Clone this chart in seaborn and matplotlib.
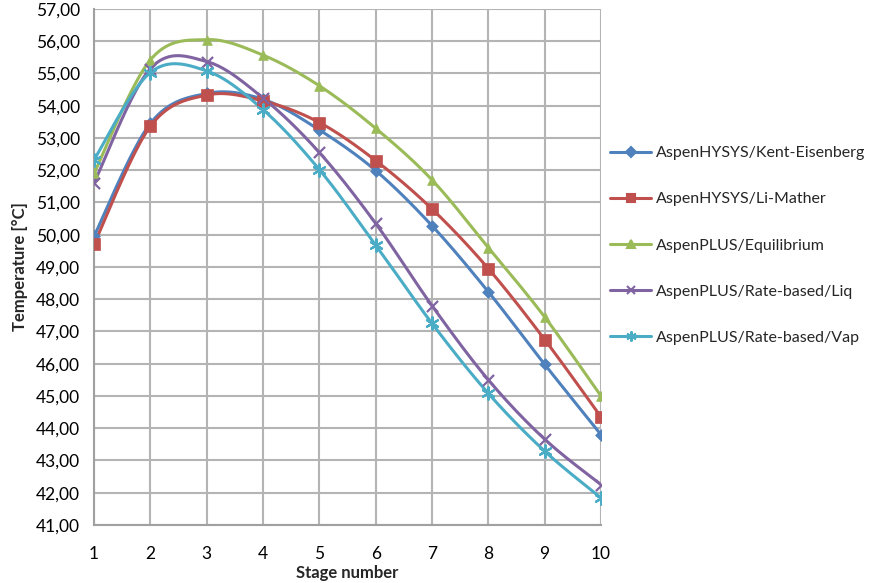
import numpy as np
import seaborn as sns
import matplotlib.pyplot as plt
import pandas as pd
from matplotlib.lines import Line2D
from matplotlib.ticker import FuncFormatter

sns.set_style('white')
plt.rcParams['font.family'] = ['Lato', 'DejaVu Sans']

stages = [1, 2, 3, 4, 5, 6, 7, 8, 9, 10]
kent_eisenberg = [49.95, 53.45, 54.38, 54.20, 53.25, 51.99, 50.28, 48.23, 45.98, 43.80]
li_mather = [49.70, 53.36, 54.33, 54.15, 53.48, 52.30, 50.80, 48.95, 46.75, 44.35]
equilibrium = [51.90, 55.42, 56.05, 55.57, 54.62, 53.30, 51.70, 49.60, 47.45, 45.00]
rate_liq = [51.60, 55.15, 55.37, 54.24, 52.55, 50.35, 47.80, 45.50, 43.66, 42.25]
rate_vap = [52.32, 55.03, 55.08, 53.88, 52.02, 49.68, 47.25, 45.08, 43.29, 41.84]

labels = ['AspenHYSYS/Kent-Eisenberg', 'AspenHYSYS/Li-Mather', 'AspenPLUS/Equilibrium',
          'AspenPLUS/Rate-based/Liq', 'AspenPLUS/Rate-based/Vap']
colors = ['#4F81BD', '#C0504D', '#9BBB59', '#8064A2', '#4BACC6']
markers = ['D', 's', '^', 'x', (6, 2, 0)]
msizes = [6, 8, 7, 8, 9]

series = [kent_eisenberg, li_mather, equilibrium, rate_liq, rate_vap]
df = pd.concat([pd.DataFrame({'stage': stages, 'temp': s, 'model': l})
                for s, l in zip(series, labels)], ignore_index=True)


def smooth_curve(x, y, n=24):
    # Excel-like smoothed line (Bezier through the points)
    pts = np.column_stack([x, y]).astype(float)
    pad = np.vstack([pts[0], pts, pts[-1]])
    t = np.linspace(0, 1, n, endpoint=False)[:, None]
    out = []
    for i in range(1, len(pad) - 2):
        p0, p1, p2, p3 = pad[i - 1:i + 3]
        c1 = p1 + (p2 - p0) / 6
        c2 = p2 - (p3 - p1) / 6
        out.append((1 - t) ** 3 * p1 + 3 * (1 - t) ** 2 * t * c1 + 3 * (1 - t) * t ** 2 * c2 + t ** 3 * p2)
    out.append(pts[-1:])
    return np.vstack(out)


fig = plt.figure(figsize=(8.85, 5.83), dpi=100)
ax = fig.add_axes([0.1062, 0.0995, 0.5729, 0.8851])

handles = []
for lab, col, mk, ms in zip(labels, colors, markers, msizes):
    sub = df[df['model'] == lab]
    curve = smooth_curve(sub['stage'].values, sub['temp'].values)
    ax.plot(curve[:, 0], curve[:, 1], color=col, lw=2.2, zorder=3)
    filled = mk not in ('x',) and not isinstance(mk, tuple)
    sns.scatterplot(x='stage', y='temp', data=sub, ax=ax, marker=mk, s=ms ** 2,
                    color=col, edgecolor=col if filled else None,
                    linewidth=1.6 if not filled else 0.5, zorder=4, legend=False)
    handles.append(Line2D([0], [0], color=col, lw=2.2, marker=mk, markersize=ms * 0.8,
                          markeredgecolor=col, markerfacecolor=col, markeredgewidth=1.5))

ax.set_xlim(1, 10)
ax.set_ylim(41, 57)
ax.set_xticks(stages)
ax.set_yticks(np.arange(41, 58, 1))
ax.yaxis.set_major_formatter(FuncFormatter(lambda v, p: f"{v:.2f}".replace('.', ',')))
ax.grid(True, color='#b4b4b4', lw=1.5)
ax.set_axisbelow(True)
for sp in ['top', 'right']:
    ax.spines[sp].set_visible(False)
for sp in ['left', 'bottom']:
    ax.spines[sp].set_color('#a0a0a0')
    ax.spines[sp].set_linewidth(1.5)
ax.tick_params(axis='both', which='major', length=5, width=1.5, color='#a0a0a0',
               labelsize=12.5, labelcolor='black', direction='out', pad=5)
ax.tick_params(axis='x', pad=10)

ax.set_xlabel('Stage number', fontsize=12, fontweight='bold', labelpad=2)
ax.set_ylabel('Temperature [°C]', fontsize=12, fontweight='bold', labelpad=6)

fig.legend(handles, labels, loc='center left', bbox_to_anchor=(0.682, 0.579),
           frameon=False, fontsize=11.5, handlelength=2.6, labelspacing=2.0,
           handletextpad=0.3, borderaxespad=0)

fig.savefig('out.png', dpi=100)
